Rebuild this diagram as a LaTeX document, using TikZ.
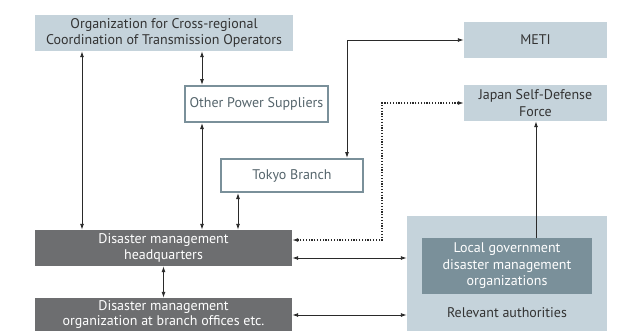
\documentclass[tikz,border=0pt]{standalone}
\usepackage{fontspec}
\setmainfont{PT Sans}
\usetikzlibrary{arrows.meta,calc}
\definecolor{lightbox}{HTML}{C5D3DB}
\definecolor{darkbox}{HTML}{6D6E70}
\definecolor{midbox}{HTML}{7A909A}
\definecolor{txt}{HTML}{333333}
\definecolor{arr}{HTML}{2A2A2A}
\tikzset{
  fnt/.style={font=\fontsize{14}{16.5}\selectfont},
  lbox/.style={fill=lightbox, text=txt, align=center, inner sep=0pt, fnt},
  obox/.style={fill=white, draw=midbox, line width=2pt, text=midbox!70!black, align=center, inner sep=0pt, fnt},
  dbox/.style={fill=darkbox, text=white, align=center, inner sep=0pt, fnt},
  mbox/.style={fill=midbox, text=white, align=center, inner sep=0pt, fnt},
  conn/.style={draw=arr, line width=0.9pt, {Latex[length=6pt,width=4pt]}-{Latex[length=6pt,width=4pt]}},
  conn1/.style={draw=arr, line width=0.9pt, -{Latex[length=6pt,width=4pt]}},
  dconn/.style={draw=arr, line width=1.1pt, dash pattern=on 1.2pt off 1.6pt, {Latex[length=6pt,width=4pt]}-{Latex[length=6pt,width=4pt]}},
}
\begin{document}
\begin{tikzpicture}[x=1pt,y=-1pt]
\useasboundingbox (0,0) rectangle (617,330);
% nodes
\node[lbox, minimum width=258pt, minimum height=36pt] (org) at (164,33) {Organization for Cross-regional\\Coordination of Transmission Operators};
\node[obox, minimum width=143pt, minimum height=36pt] (other) at (256.5,104) {Other Power Suppliers};
\node[obox, minimum width=142pt, minimum height=33pt] (tokyo) at (292,175.5) {Tokyo Branch};
\node[lbox, minimum width=143pt, minimum height=36pt] (meti) at (535.5,40) {METI};
\node[lbox, minimum width=143pt, minimum height=36pt] (jsdf) at (535.5,103) {Japan Self-Defense\\Force};
\node[dbox, minimum width=257pt, minimum height=36pt] (hq) at (163.5,248) {Disaster management\\headquarters};
\node[dbox, minimum width=257pt, minimum height=36pt] (br) at (163.5,316) {};
\node[text=white, align=center, inner sep=0pt, font=\fontsize{14}{15.5}\selectfont] (brtxt) at (163.5,314.5) {Disaster management\\organization at branch offices etc.};
\node[lbox, minimum width=200pt, minimum height=118pt] (rel) at (507,275) {};
\node[mbox, minimum width=170pt, minimum height=56pt] (loc) at (507,266) {Local government\\disaster management\\organizations};
\node[text=txt, fnt] (reltxt) at (507,313) {Relevant authorities};
% helper coordinates
\coordinate (x1) at (82,0);
\coordinate (x2) at (202,0);
\coordinate (x3) at (238,0);
\coordinate (x4) at (347,0);
\coordinate (x5) at (382,0);
\coordinate (x6) at (536,0);
\coordinate (x7) at (163.5,0);
\coordinate (y1) at (0,258);
\coordinate (y2) at (0,315);
\coordinate (y3) at (0,240);
% connectors
\draw[conn] (org.south -| x1) -- (hq.north -| x1);
\draw[conn] (org.south -| x2) -- (other.north -| x2);
\draw[conn] (other.south -| x2) -- (hq.north -| x2);
\draw[conn] (tokyo.south -| x3) -- (hq.north -| x3);
\draw[conn] (hq.south -| x7) -- (br.north -| x7);
\draw[conn] (meti.west) -- (meti.west -| x4) -- (tokyo.north -| x4);
\draw[dconn] (jsdf.west) -- (jsdf.west -| x5) -- (x5 |- y3) -- (hq.east |- y3);
\draw[conn] (hq.east |- y1) -- (rel.west |- y1);
\draw[conn] (br.east |- y2) -- (rel.west |- y2);
\draw[conn1] (loc.north -| x6) -- (jsdf.south -| x6);
\end{tikzpicture}
\end{document}
